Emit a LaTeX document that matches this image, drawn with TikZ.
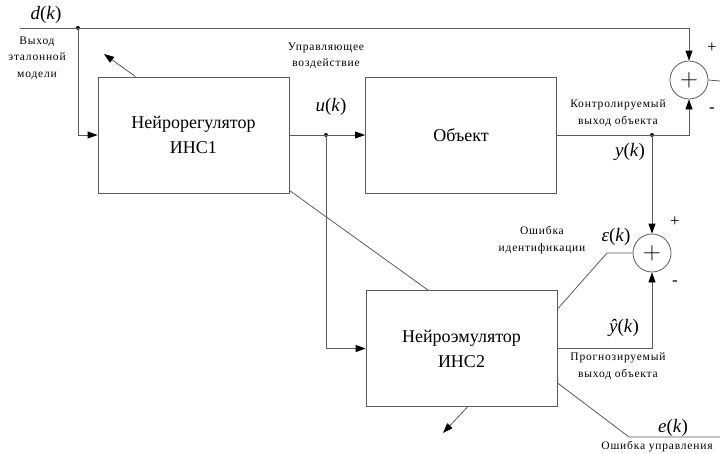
\documentclass[tikz,border=0pt]{standalone}
\usepackage{fontspec}
\setmainfont{Liberation Serif}
\newfontfamily\lblfont{Liberation Serif}[LetterSpace=7]
\usetikzlibrary{
    arrows.meta,
    positioning,
    calc
}
\definecolor{lineGray}{RGB}{90, 90, 90}
\newcommand{\sig}[1]{\textit{#1}(\textit{k})}
\tikzset{
    schemeDiagram/.style={
        block/.style={
            rectangle,
            draw=lineGray,
            line width=0.8pt,
            minimum width=191pt,
            minimum height=116pt,
            align=center,
            font=\fontsize{18}{25}\selectfont,
        },
        summer/.style={
            circle,
            draw=lineGray,
            line width=0.8pt,
            minimum size=38pt,
            inner sep=0pt,
            font=\fontsize{28}{28}\selectfont,
        },
        wire/.style={
            draw=lineGray,
            line width=0.8pt,
        },
        arrow/.style={
            wire,
            -{Triangle[length=10pt,width=7pt,color=black]},
        },
        caption/.style={
            font=\lblfont\fontsize{11.5}{16.5}\selectfont,
            align=center,
            inner sep=0pt,
        },
        signal/.style={
            font=\fontsize{19}{19}\selectfont,
            inner sep=0pt,
        },
        sign/.style={
            font=\fontsize{17}{17}\selectfont,
            inner sep=0pt,
        },
        dot/.style={
            circle,
            fill=black,
            minimum size=4pt,
            inner sep=0pt,
        },
    }
}

\begin{document}
\begin{tikzpicture}[schemeDiagram, x=1pt, y=-1pt]
    \useasboundingbox (0,0) rectangle (720,453);

    \begin{scope}
        % blocks
        \node[block] (reg_ins1) at (193.5, 135) {Нейрорегулятор\\ИНС1};
        \node[block] (obj) at (461, 135) {Объект};
        \node[block] (emu_ins2) at (461.5, 348.5) {Нейроэмулятор\\ИНС2};

        \node[summer] (sum_top) at (689, 80) {$+$};
        \node[summer] (sum_id) at (652, 253) {$+$};

        % branch points
        \node[dot] (d_split) at (78, 28) {};
        \node[dot] (u_split) at (326, 135) {};
        \node[dot] (y_split) at (652, 135) {};

        \coordinate (d_in) at (20, 28);
        \coordinate (sum_out) at (720, 81);
        \coordinate (eps_bend) at (607, 253);
        \coordinate (e_bend) at (629, 437);
        \coordinate (e_out) at (720, 437);
        \coordinate (adj_reg) at (104, 54);
        \coordinate (adj_emu) at (443, 433);
    \end{scope}

    \begin{scope}
        \draw[arrow] (d_in) -| (sum_top.north);
        \draw[arrow] (d_split.center) |- (reg_ins1.west);
        \draw[arrow] (reg_ins1.east) -- (obj.west);
        \draw[arrow] (u_split.center) |- (emu_ins2.west);
        \draw[arrow] (obj.east) -| (sum_top.south);
        \draw[arrow] (y_split.center) -- (sum_id.north);
        \draw[arrow] (emu_ins2.east) -| (sum_id.south);
        \draw[wire] (sum_top.east) -- (sum_out);
        \draw[wire] (sum_id.west) -- (eps_bend) -- ([yshift=-19pt]emu_ins2.north east);
        \draw[wire] ([yshift=24pt]emu_ins2.south east) -- (e_bend) -- (e_out);
        \draw[wire] ([yshift=3pt]reg_ins1.south east) -- ([xshift=-33.5pt]emu_ins2.north);
        \draw[arrow] ([xshift=-58pt]reg_ins1.north) -- (adj_reg);
        \draw[arrow] ([xshift=6pt]emu_ins2.south) -- (adj_emu);
    \end{scope}

    \begin{scope}
        % labels
        \node[signal] (lbl_d) at (46, 15) {\sig{d}};
        \node[caption] (lbl_ref) at (37, 58) {Выход\\эталонной\\модели};
        \node[caption] (lbl_ctrl) at (326, 56) {Управляющее\\воздействие};
        \node[signal] (lbl_u) at (331, 107) {\sig{u}};
        \node[caption] (lbl_yc) at (618, 113) {Контролируемый\\выход объекта};
        \node[signal] (lbl_y) at (630, 152) {\sig{y}};
        \node[sign] (lbl_p1) at (712, 48) {+};
        \node[sign] (lbl_m1) at (712, 110) {-};
        \node[sign] (lbl_p2) at (675, 222) {+};
        \node[sign] (lbl_m2) at (675, 283) {-};
        \node[caption] (lbl_eid) at (542, 240) {Ошибка\\идентификации};
        \node[signal] (lbl_eps) at (616, 237) {\sig{ε}};
        \node[signal] (lbl_yhat) at (624, 328) {\sig{ŷ}};
        \node[caption] (lbl_yp) at (618, 366) {Прогнозируемый\\выход объекта};
        \node[signal] (lbl_e) at (673, 428) {\sig{e}};
        \node[caption] (lbl_ectrl) at (657, 447) {Ошибка управления};
    \end{scope}
\end{tikzpicture}
\end{document}
